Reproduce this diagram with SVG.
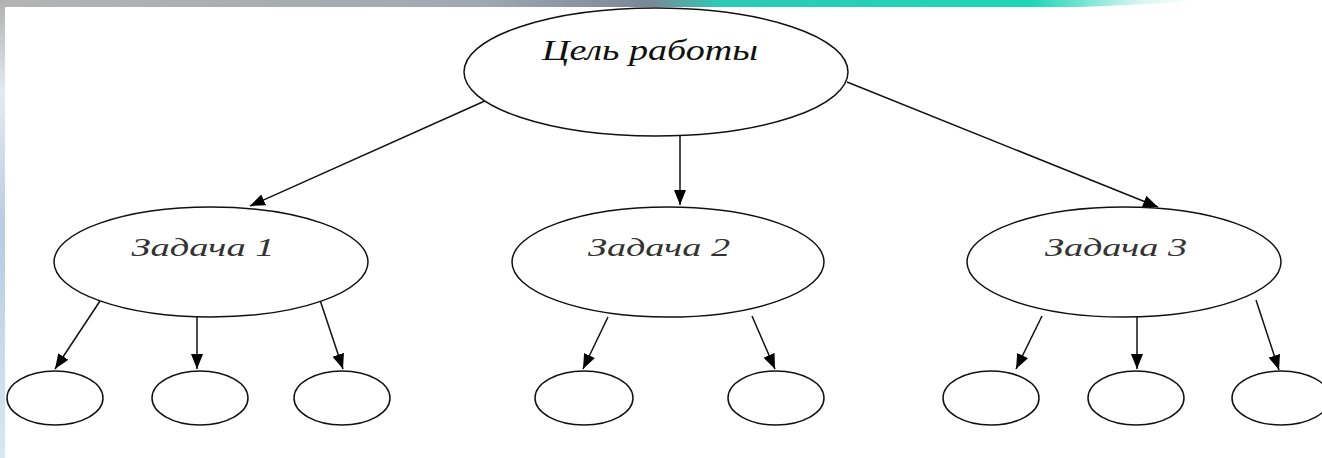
<svg xmlns="http://www.w3.org/2000/svg" width="1322" height="458" viewBox="0 0 1322 458">
<defs>
<linearGradient id="topbar" x1="0" y1="0" x2="1200" y2="0" gradientUnits="userSpaceOnUse">
<stop offset="0" stop-color="#b4b4b4"/>
<stop offset="0.4" stop-color="#a0a8b0"/>
<stop offset="0.54" stop-color="#7a8896"/>
<stop offset="0.6" stop-color="#2ecab4"/>
<stop offset="0.86" stop-color="#20d4b8"/>
<stop offset="0.95" stop-color="#d8f6f0"/>
<stop offset="1" stop-color="#ffffff"/>
</linearGradient>
<linearGradient id="leftbar" x1="0" y1="0" x2="0" y2="1">
<stop offset="0" stop-color="#b0b0b0"/>
<stop offset="0.2" stop-color="#e4eaf0"/>
<stop offset="0.5" stop-color="#b8cbe2"/>
<stop offset="1" stop-color="#d8e8f2"/>
</linearGradient>
<marker id="ah" markerUnits="userSpaceOnUse" markerWidth="16" markerHeight="14" refX="15" refY="6" orient="auto">
<path d="M0,0 L15,6 L0,12 Z" fill="#000"/>
</marker>
</defs>
<style>
.node{fill:#fff;stroke:#111;stroke-width:1.5}
.edge{stroke:#111;stroke-width:1.5;fill:none;marker-end:url(#ah)}
.lbl{font-family:"Liberation Serif","Times New Roman",serif;font-style:italic;text-anchor:middle}
.big{font-size:29px;fill:#111}
.small{font-size:25px;fill:#333}
</style>
<rect x="0" y="0" width="1322" height="458" fill="#fff"/>
<path d="M0,0 H1200 L1150,4 L1080,7 H0 Z" fill="url(#topbar)"/>
<rect x="0" y="0" width="5" height="458" fill="url(#leftbar)"/>
<g id="connectors">
<line class="edge" x1="487" y1="100" x2="250" y2="206"/>
<line class="edge" x1="680" y1="136" x2="680" y2="205"/>
<line class="edge" x1="847" y1="82" x2="1158" y2="207"/>
<line class="edge" x1="100" y1="301" x2="55" y2="369"/>
<line class="edge" x1="197" y1="317" x2="197" y2="369"/>
<line class="edge" x1="320" y1="300" x2="343" y2="369"/>
<line class="edge" x1="608" y1="317" x2="583" y2="369"/>
<line class="edge" x1="752" y1="316" x2="775" y2="369"/>
<line class="edge" x1="1042" y1="316" x2="1016" y2="369"/>
<line class="edge" x1="1137" y1="317" x2="1137" y2="369"/>
<line class="edge" x1="1256" y1="300" x2="1279" y2="370"/>
</g>
<g id="goal">
<ellipse class="node" cx="656" cy="72" rx="192" ry="64"/>
<text class="lbl big" x="650" y="60" textLength="216" lengthAdjust="spacingAndGlyphs">Цель работы</text>
</g>
<g id="task1">
<ellipse class="node" cx="211" cy="262" rx="157" ry="55"/>
<text class="lbl small" x="203" y="256" textLength="143" lengthAdjust="spacingAndGlyphs">Задача 1</text>
</g>
<g id="task2">
<ellipse class="node" cx="668" cy="262" rx="156" ry="55"/>
<text class="lbl small" x="659" y="256" textLength="142" lengthAdjust="spacingAndGlyphs">Задача 2</text>
</g>
<g id="task3">
<ellipse class="node" cx="1124" cy="262" rx="157" ry="55"/>
<text class="lbl small" x="1116" y="256" textLength="142" lengthAdjust="spacingAndGlyphs">Задача 3</text>
</g>
<g id="sub1a"><ellipse class="node" cx="55" cy="398" rx="48" ry="27"/></g>
<g id="sub1b"><ellipse class="node" cx="200" cy="398" rx="48" ry="27"/></g>
<g id="sub1c"><ellipse class="node" cx="342" cy="398" rx="48" ry="27"/></g>
<g id="sub2a"><ellipse class="node" cx="584" cy="398" rx="49" ry="27"/></g>
<g id="sub2b"><ellipse class="node" cx="776" cy="398" rx="48" ry="27"/></g>
<g id="sub3a"><ellipse class="node" cx="991" cy="398" rx="48" ry="27"/></g>
<g id="sub3b"><ellipse class="node" cx="1136" cy="398" rx="48" ry="27"/></g>
<g id="sub3c"><ellipse class="node" cx="1281" cy="398" rx="49" ry="27"/></g>
</svg>
